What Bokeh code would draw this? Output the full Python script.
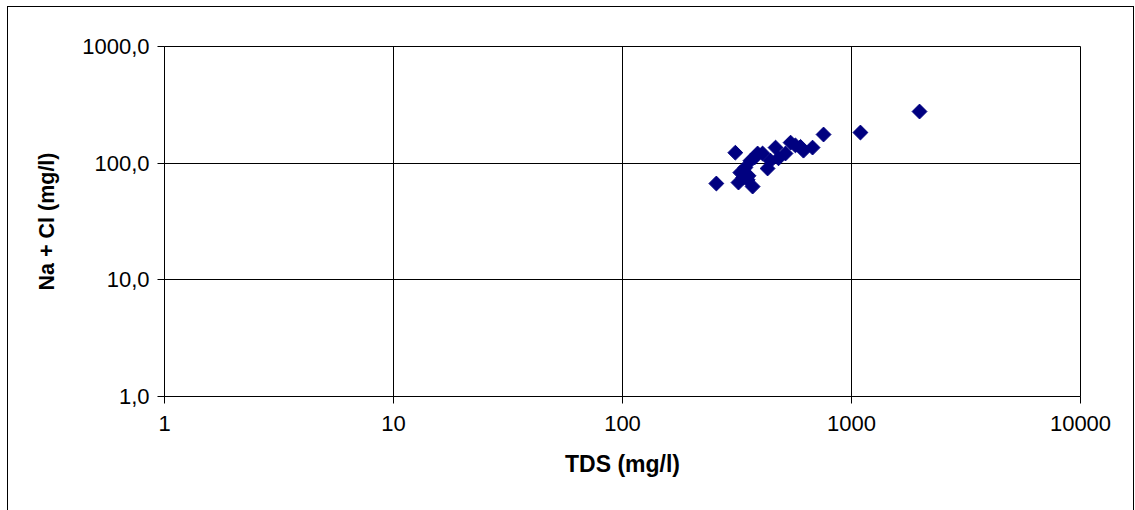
from bokeh.plotting import figure
from bokeh.models import FixedTicker, CustomJSTickFormatter, ColumnDataSource
from bokeh.embed import file_html
from bokeh.resources import INLINE

tds = [257, 311, 321, 370, 327, 344, 362, 389, 409, 430, 466, 480, 515, 542,
       569, 617, 676, 755, 1094, 1982, 337, 355, 443, 599, 352, 378]
nacl = [66.9, 123, 68.2, 63, 83, 91.7, 105, 121, 121, 90, 136, 110, 121, 150,
        142, 128, 136, 176, 183, 277, 75.3, 78, 105, 138, 72, 112]

x_ticks = [1, 10, 100, 1000, 10000]
y_ticks = [1, 10, 100, 1000]
x_label = "TDS (mg/l)"
y_label = "Na + Cl (mg/l)"

FONT = "Liberation Sans"

p = figure(width=1125, height=504, x_axis_type="log", y_axis_type="log",
           x_range=(1, 10000), y_range=(1, 1000),
           output_backend="svg", toolbar_location=None,
           min_border_left=156, min_border_top=39, min_border_right=55, min_border_bottom=117,
           background_fill_color="white", border_fill_color="white",
           outline_line_color="black", outline_line_width=1)
p.styles = {"margin-left": "7px", "margin-top": "6px", "border": "1px solid black", "box-sizing": "content-box"}

src = ColumnDataSource(dict(x=tds, y=nacl))
p.scatter("x", "y", source=src, marker="square", angle=0.785398, size=10.5,
          fill_color="#000080", line_color="#000080")

p.xaxis.ticker = FixedTicker(ticks=x_ticks)
p.yaxis.ticker = FixedTicker(ticks=y_ticks)
p.xaxis.formatter = CustomJSTickFormatter(code="return String(Math.round(tick));")
p.yaxis.formatter = CustomJSTickFormatter(code="return tick.toFixed(1).replace('.', ',');")

for ax in (p.xaxis[0], p.yaxis[0]):
    ax.major_tick_out = 7
    ax.major_tick_in = 0
    ax.minor_tick_out = 0
    ax.minor_tick_in = 0
    ax.axis_line_color = "black"
    ax.major_tick_line_color = "black"
    ax.major_label_text_font = FONT
    ax.major_label_text_font_size = "22px"
    ax.major_label_text_color = "black"
    ax.axis_label_text_font = FONT
    ax.axis_label_text_font_style = "bold"
    ax.axis_label_text_color = "black"

p.xaxis.axis_label_text_font_size = "23px"
p.yaxis.axis_label_text_font_size = "21.5px"
p.xaxis.axis_label = x_label
p.yaxis.axis_label = y_label
p.xaxis.major_label_standoff = 12
p.xaxis.axis_label_standoff = 17
p.yaxis.major_label_standoff = 8
p.yaxis.axis_label_standoff = 20

p.xgrid.grid_line_color = "black"
p.ygrid.grid_line_color = "black"
p.xgrid.grid_line_width = 1
p.ygrid.grid_line_width = 1

open("out.html", "w").write(file_html(p, INLINE))
